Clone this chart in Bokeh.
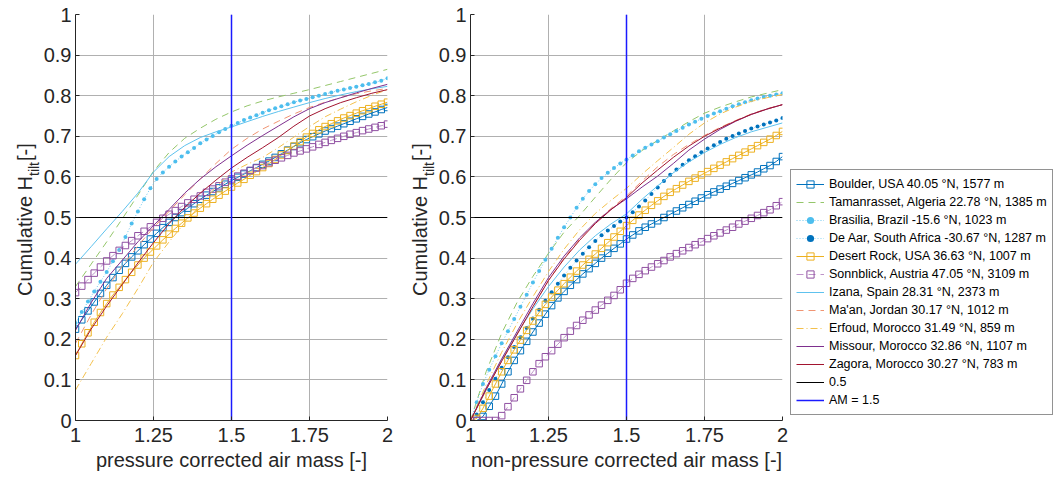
import math
from bokeh.plotting import figure
from bokeh.models import Range1d, FixedTicker, NumeralTickFormatter, Label, Legend, LegendItem
from bokeh.layouts import row
from bokeh.embed import file_html
from bokeh.resources import INLINE

FONT = "Liberation Sans"
TXT = "#262626"

# ---------------- data ----------------
X_FINE = [1.00, 1.02, 1.04, 1.06, 1.08, 1.10, 1.12, 1.14, 1.16, 1.18, 1.20, 1.22, 1.24, 1.26, 1.28,
          1.30, 1.32, 1.34, 1.36, 1.38, 1.40, 1.42, 1.44, 1.46, 1.48, 1.50, 1.52, 1.54, 1.56, 1.58,
          1.60, 1.62, 1.64, 1.66, 1.68, 1.70, 1.72, 1.74, 1.76, 1.78, 1.80, 1.82, 1.84, 1.86, 1.88,
          1.90, 1.92, 1.94, 1.96, 1.98, 2.00]
X_COARSE = [1.00, 1.05, 1.10, 1.15, 1.20, 1.25, 1.30, 1.35, 1.40, 1.45, 1.50, 1.55, 1.60, 1.65, 1.70,
            1.75, 1.80, 1.85, 1.90, 1.95, 2.00]
X_TICKS = [1, 1.25, 1.5, 1.75, 2]
Y_TICKS = [0, 0.1, 0.2, 0.3, 0.4, 0.5, 0.6, 0.7, 0.8, 0.9, 1]
REF_Y = 0.5
REF_AM = 1.5

NAMES = {
    "boulder": "Boulder, USA 40.05 °N, 1577 m",
    "taman": "Tamanrasset, Algeria 22.78 °N, 1385 m",
    "brasilia": "Brasilia, Brazil -15.6 °N, 1023 m",
    "deaar": "De Aar, South Africa -30.67 °N, 1287 m",
    "desert": "Desert Rock, USA 36.63 °N, 1007 m",
    "sonn": "Sonnblick, Austria 47.05 °N, 3109 m",
    "izana": "Izana, Spain 28.31 °N, 2373 m",
    "maan": "Ma'an, Jordan 30.17 °N, 1012 m",
    "erfoud": "Erfoud, Morocco 31.49 °N, 859 m",
    "missour": "Missour, Morocco 32.86 °N, 1107 m",
    "zagora": "Zagora, Morocco 30.27 °N, 783 m",
}

# left panel: pressure corrected air mass
L_BOULDER = [0.225, 0.248, 0.270, 0.292, 0.313, 0.333, 0.352, 0.370, 0.387, 0.403, 0.418, 0.433, 0.447,
             0.461, 0.475, 0.488, 0.500, 0.512, 0.523, 0.534, 0.545, 0.555, 0.564, 0.573, 0.582, 0.591,
             0.599, 0.607, 0.615, 0.623, 0.631, 0.639, 0.648, 0.657, 0.666, 0.675, 0.684, 0.692, 0.699,
             0.706, 0.713, 0.719, 0.725, 0.731, 0.737, 0.743, 0.749, 0.755, 0.760, 0.766, 0.771]
L_DESERT = [0.160, 0.189, 0.216, 0.242, 0.266, 0.288, 0.309, 0.328, 0.347, 0.365, 0.383, 0.400, 0.415,
            0.430, 0.445, 0.459, 0.473, 0.486, 0.499, 0.511, 0.523, 0.534, 0.545, 0.555, 0.565, 0.575,
            0.585, 0.594, 0.604, 0.613, 0.623, 0.633, 0.643, 0.654, 0.665, 0.676, 0.687, 0.698, 0.707,
            0.716, 0.724, 0.731, 0.738, 0.745, 0.751, 0.757, 0.763, 0.768, 0.774, 0.779, 0.784]
L_SONN = [0.315, 0.331, 0.347, 0.363, 0.378, 0.393, 0.406, 0.419, 0.431, 0.443, 0.455, 0.466, 0.477,
          0.488, 0.498, 0.508, 0.517, 0.527, 0.536, 0.545, 0.553, 0.562, 0.570, 0.578, 0.587, 0.595,
          0.602, 0.609, 0.616, 0.622, 0.628, 0.635, 0.641, 0.647, 0.653, 0.659, 0.664, 0.669, 0.674,
          0.680, 0.685, 0.690, 0.695, 0.700, 0.705, 0.709, 0.714, 0.718, 0.722, 0.726, 0.730]
L_BRASILIA = [0.240, 0.267, 0.293, 0.318, 0.342, 0.366, 0.392, 0.420, 0.452, 0.485, 0.515, 0.545, 0.572,
              0.595, 0.611, 0.625, 0.638, 0.650, 0.661, 0.671, 0.683, 0.692, 0.701, 0.710, 0.718, 0.726,
              0.733, 0.740, 0.746, 0.752, 0.758, 0.764, 0.769, 0.774, 0.779, 0.784, 0.788, 0.792, 0.796,
              0.800, 0.804, 0.808, 0.812, 0.815, 0.819, 0.822, 0.826, 0.829, 0.833, 0.837, 0.843]
L_TAMAN = [0.330, 0.385, 0.440, 0.497, 0.555, 0.614, 0.660, 0.695, 0.720, 0.742, 0.760, 0.775, 0.787,
           0.797, 0.806, 0.815, 0.825, 0.835, 0.845, 0.855, 0.865]
L_IZANA = [0.385, 0.428, 0.472, 0.515, 0.560, 0.612, 0.650, 0.677, 0.697, 0.711, 0.723, 0.736, 0.749,
           0.761, 0.772, 0.783, 0.793, 0.802, 0.810, 0.817, 0.823]
L_MAAN = [0.190, 0.260, 0.325, 0.380, 0.430, 0.475, 0.515, 0.556, 0.595, 0.633, 0.668, 0.695, 0.718,
          0.737, 0.755, 0.771, 0.784, 0.795, 0.805, 0.812, 0.818]
L_ERFOUD = [0.075, 0.140, 0.205, 0.263, 0.325, 0.390, 0.440, 0.487, 0.530, 0.575, 0.612, 0.631, 0.648,
            0.672, 0.698, 0.724, 0.748, 0.767, 0.785, 0.801, 0.815]
L_MISSOUR = [0.222, 0.290, 0.350, 0.395, 0.440, 0.480, 0.520, 0.560, 0.595, 0.625, 0.652, 0.678, 0.702,
             0.725, 0.748, 0.768, 0.783, 0.795, 0.807, 0.818, 0.828]
L_ZAGORA = [0.160, 0.225, 0.282, 0.335, 0.388, 0.438, 0.485, 0.525, 0.560, 0.592, 0.622, 0.648, 0.672,
            0.697, 0.725, 0.750, 0.768, 0.783, 0.795, 0.806, 0.815]

# right panel: non-pressure corrected air mass
R_BOULDER = [0.000, 0.000, 0.010, 0.035, 0.060, 0.090, 0.120, 0.148, 0.172, 0.195, 0.218, 0.240, 0.262,
             0.283, 0.302, 0.318, 0.333, 0.347, 0.361, 0.374, 0.387, 0.400, 0.412, 0.424, 0.435, 0.447,
             0.457, 0.467, 0.476, 0.484, 0.492, 0.500, 0.508, 0.516, 0.524, 0.532, 0.540, 0.548, 0.556,
             0.563, 0.570, 0.577, 0.584, 0.591, 0.598, 0.605, 0.612, 0.620, 0.628, 0.638, 0.650]
R_DESERT = [0.000, 0.005, 0.030, 0.060, 0.090, 0.120, 0.148, 0.174, 0.198, 0.222, 0.245, 0.266, 0.286,
            0.304, 0.321, 0.337, 0.353, 0.368, 0.383, 0.397, 0.410, 0.424, 0.438, 0.452, 0.466, 0.480,
            0.493, 0.506, 0.518, 0.530, 0.541, 0.552, 0.562, 0.571, 0.580, 0.589, 0.597, 0.605, 0.613,
            0.621, 0.629, 0.637, 0.645, 0.653, 0.661, 0.669, 0.677, 0.685, 0.693, 0.702, 0.712]
R_SONN = [0.000, 0.000, 0.000, 0.000, 0.000, 0.012, 0.034, 0.056, 0.078, 0.099, 0.120, 0.140, 0.157,
          0.172, 0.188, 0.204, 0.220, 0.234, 0.247, 0.260, 0.272, 0.284, 0.296, 0.308, 0.322, 0.338,
          0.350, 0.360, 0.369, 0.378, 0.386, 0.394, 0.403, 0.411, 0.418, 0.426, 0.433, 0.440, 0.448,
          0.455, 0.462, 0.469, 0.476, 0.484, 0.491, 0.498, 0.505, 0.512, 0.519, 0.529, 0.539]
R_BRASILIA = [0.000, 0.045, 0.090, 0.125, 0.158, 0.190, 0.220, 0.250, 0.280, 0.310, 0.340, 0.368, 0.396,
              0.423, 0.450, 0.476, 0.500, 0.524, 0.546, 0.565, 0.582, 0.597, 0.610, 0.622, 0.633, 0.643,
              0.653, 0.663, 0.672, 0.680, 0.688, 0.697, 0.705, 0.713, 0.721, 0.729, 0.736, 0.743, 0.750,
              0.756, 0.762, 0.768, 0.774, 0.779, 0.784, 0.789, 0.793, 0.797, 0.800, 0.803, 0.806]
R_DEAAR = [0.000, 0.015, 0.045, 0.075, 0.103, 0.130, 0.156, 0.181, 0.205, 0.228, 0.251, 0.273, 0.295,
           0.316, 0.337, 0.357, 0.376, 0.394, 0.411, 0.427, 0.442, 0.456, 0.468, 0.479, 0.490, 0.500,
           0.513, 0.527, 0.542, 0.558, 0.574, 0.590, 0.605, 0.618, 0.630, 0.641, 0.651, 0.661, 0.670,
           0.678, 0.686, 0.694, 0.701, 0.707, 0.713, 0.719, 0.724, 0.729, 0.734, 0.739, 0.745]
R_TAMAN = [0.000, 0.120, 0.215, 0.292, 0.355, 0.412, 0.464, 0.505, 0.550, 0.594, 0.635, 0.665, 0.690,
           0.713, 0.736, 0.757, 0.772, 0.785, 0.797, 0.806, 0.815]
R_IZANA = [0.000, 0.075, 0.150, 0.215, 0.275, 0.330, 0.378, 0.420, 0.455, 0.484, 0.509, 0.545, 0.578,
           0.610, 0.637, 0.660, 0.680, 0.697, 0.711, 0.722, 0.733]
R_MAAN = [0.000, 0.076, 0.146, 0.213, 0.280, 0.345, 0.400, 0.447, 0.488, 0.522, 0.553, 0.590, 0.625,
          0.655, 0.680, 0.702, 0.722, 0.739, 0.755, 0.768, 0.778]
R_ERFOUD = [0.000, 0.088, 0.168, 0.240, 0.305, 0.367, 0.422, 0.470, 0.510, 0.542, 0.572, 0.607, 0.640,
            0.672, 0.705, 0.733, 0.755, 0.772, 0.786, 0.795, 0.803]
R_MISSOUR = [0.000, 0.080, 0.152, 0.220, 0.288, 0.352, 0.405, 0.450, 0.488, 0.520, 0.546, 0.575, 0.602,
             0.633, 0.666, 0.693, 0.717, 0.737, 0.754, 0.767, 0.778]
R_ZAGORA = [0.000, 0.076, 0.146, 0.213, 0.280, 0.345, 0.398, 0.444, 0.485, 0.519, 0.549, 0.585, 0.617,
            0.648, 0.676, 0.700, 0.720, 0.738, 0.754, 0.767, 0.778]

LEFT = {
    "boulder": (X_FINE, L_BOULDER), "taman": (X_COARSE, L_TAMAN), "brasilia": (X_FINE, L_BRASILIA),
    "desert": (X_FINE, L_DESERT), "sonn": (X_FINE, L_SONN),
    "izana": (X_COARSE, L_IZANA), "maan": (X_COARSE, L_MAAN), "erfoud": (X_COARSE, L_ERFOUD),
    "missour": (X_COARSE, L_MISSOUR), "zagora": (X_COARSE, L_ZAGORA),
}
RIGHT = {
    "boulder": (X_FINE, R_BOULDER), "taman": (X_COARSE, R_TAMAN), "brasilia": (X_FINE, R_BRASILIA),
    "deaar": (X_FINE, R_DEAAR), "desert": (X_FINE, R_DESERT), "sonn": (X_FINE, R_SONN),
    "izana": (X_COARSE, R_IZANA), "maan": (X_COARSE, R_MAAN), "erfoud": (X_COARSE, R_ERFOUD),
    "missour": (X_COARSE, R_MISSOUR), "zagora": (X_COARSE, R_ZAGORA),
}
ORDER = ["boulder", "taman", "brasilia", "deaar", "desert", "sonn", "izana", "maan", "erfoud",
         "missour", "zagora"]

# ---------------- styles ----------------
STYLE = {
    "boulder": dict(color="#0072BD", dash="solid", marker="square", mcolor="#0072BD"),
    "taman": dict(color="#94C66A", dash="7 5", marker=None),
    "brasilia": dict(color="#6CC6EE", dash="1 2", marker="dot", mcolor="#4DBEEE"),
    "deaar": dict(color="#8CD2F0", dash="1 2", marker="dot", mcolor="#0072BD"),
    "desert": dict(color="#EDB120", dash="solid", marker="square", mcolor="#EDB120"),
    "sonn": dict(color="#BD93C8", dash="7 5", marker="square", mcolor="#9050A2"),
    "izana": dict(color="#5EC2EE", dash="solid", marker=None),
    "maan": dict(color="#F09472", dash="7 5", marker=None),
    "erfoud": dict(color="#F3C04C", dash="7 3 1 3", marker=None),
    "missour": dict(color="#7E2F8E", dash="solid", marker=None),
    "zagora": dict(color="#A2142F", dash="solid", marker=None),
}

H = 479
BT, FH = 14, 406          # frame top and frame height (all plots in the row share them)
FB = BT + FH              # frame bottom in canvas pixels
FW = 314


def blank(width, yr=(0, FH), xr=None):
    f = figure(width=width, height=H, x_range=Range1d(*(xr or (0, width))), y_range=Range1d(*yr),
               x_axis_location=None, y_axis_location=None, min_border=0,
               min_border_top=BT, min_border_bottom=H - FB,
               output_backend="svg", toolbar_location=None)
    f.outline_line_color = None
    f.grid.visible = False
    f.background_fill_color = "white"
    f.border_fill_color = "white"
    return f


def ylabel_fig(width, base_x):
    f = blank(width)
    common = dict(text_font=FONT, text_color=TXT, text_baseline="alphabetic", text_align="left",
                  angle=math.pi / 2)
    y0 = FB - 295.5
    f.add_layout(Label(x=base_x, y=y0, text="Cumulative H", text_font_size="20px", **common))
    f.add_layout(Label(x=base_x + 9, y=y0 + 120, text="tilt", text_font_size="14px", **common))
    f.add_layout(Label(x=base_x, y=y0 + 135, text=" [-]", text_font_size="20px", **common))
    return f


def plot_fig(width, bl, br, xlabel):
    p = figure(width=width, height=H, x_range=Range1d(1, 2), y_range=Range1d(0, 1),
               output_backend="svg", toolbar_location=None,
               min_border_left=bl, min_border_right=br, min_border_top=BT,
               min_border_bottom=H - FB)
    p.outline_line_color = None
    p.background_fill_color = "white"
    p.border_fill_color = "white"
    p.xaxis.ticker = FixedTicker(ticks=X_TICKS)
    p.yaxis.ticker = FixedTicker(ticks=Y_TICKS)
    for ax in (p.xaxis[0], p.yaxis[0]):
        ax.formatter = NumeralTickFormatter(format="0.[00]")
        ax.axis_line_color = TXT
        ax.axis_line_width = 1
        ax.major_tick_in = 4
        ax.major_tick_out = 0
        ax.minor_tick_in = 0
        ax.minor_tick_out = 0
        ax.major_tick_line_color = TXT
        ax.major_label_text_font = FONT
        ax.major_label_text_font_size = "20px"
        ax.major_label_text_color = TXT
    p.yaxis.major_label_standoff = 4
    p.xaxis.major_label_standoff = 7
    p.xaxis.axis_label = xlabel
    p.xaxis.axis_label_text_font = FONT
    p.xaxis.axis_label_text_font_size = "20px"
    p.xaxis.axis_label_text_font_style = "normal"
    p.xaxis.axis_label_text_color = TXT
    p.xaxis.axis_label_standoff = 4
    for g in (p.xgrid[0], p.ygrid[0]):
        g.grid_line_color = "#b0b0b0"
        g.grid_line_width = 1
    return p


def draw(p, data):
    out = {}
    for key in ORDER:
        if key not in data:
            continue
        xs, ys = data[key]
        st = STYLE[key]
        rs = [p.line(xs, ys, line_color=st["color"], line_width=1, line_dash=st["dash"])]
        if st["marker"] == "square":
            rs.append(p.scatter(xs, ys, marker="square", size=6.5, line_color=st["mcolor"],
                                fill_alpha=0, line_width=1))
        elif st["marker"] == "dot":
            rs.append(p.scatter(xs, ys, marker="circle", size=4, line_color=None,
                                fill_color=st["mcolor"]))
        out[key] = rs
    out["ref"] = [p.line([X_TICKS[0], X_TICKS[-1]], [REF_Y, REF_Y], line_color="black", line_width=1)]
    out["am"] = [p.line([REF_AM, REF_AM], [Y_TICKS[0], Y_TICKS[-1]], line_color="#1a1aff",
                        line_width=1.5)]
    return out


yl1 = ylabel_fig(40, 24)
p1 = plot_fig(357, 33, 10, "pressure corrected air mass [-]")
draw(p1, LEFT)

yl2 = ylabel_fig(38, 22)
p2 = plot_fig(354, 33, 7, "non-pressure corrected air mass [-]")
draw(p2, RIGHT)

# legend panel: same series drawn out of view so that the legend glyphs can be shown
lg = blank(265, yr=(10, 11), xr=(10, 11))
rr = draw(lg, RIGHT)

items = [LegendItem(label=NAMES[k], renderers=rr[k]) for k in ORDER]
items.append(LegendItem(label="0.5", renderers=rr["ref"]))
items.append(LegendItem(label="AM = 1.5", renderers=rr["am"]))
legend = Legend(items=items, location=(1, FB - 415), label_text_font=FONT,
                label_text_font_size="12.5px", label_text_color="#000000",
                glyph_width=28, glyph_height=18, label_height=18,
                label_standoff=5, spacing=0, padding=5, margin=0,
                border_line_color=TXT, border_line_width=1, background_fill_color="white",
                background_fill_alpha=1)
lg.add_layout(legend)

layout = row(yl1, p1, yl2, p2, lg)
open("out.html", "w").write(file_html(layout, INLINE))
